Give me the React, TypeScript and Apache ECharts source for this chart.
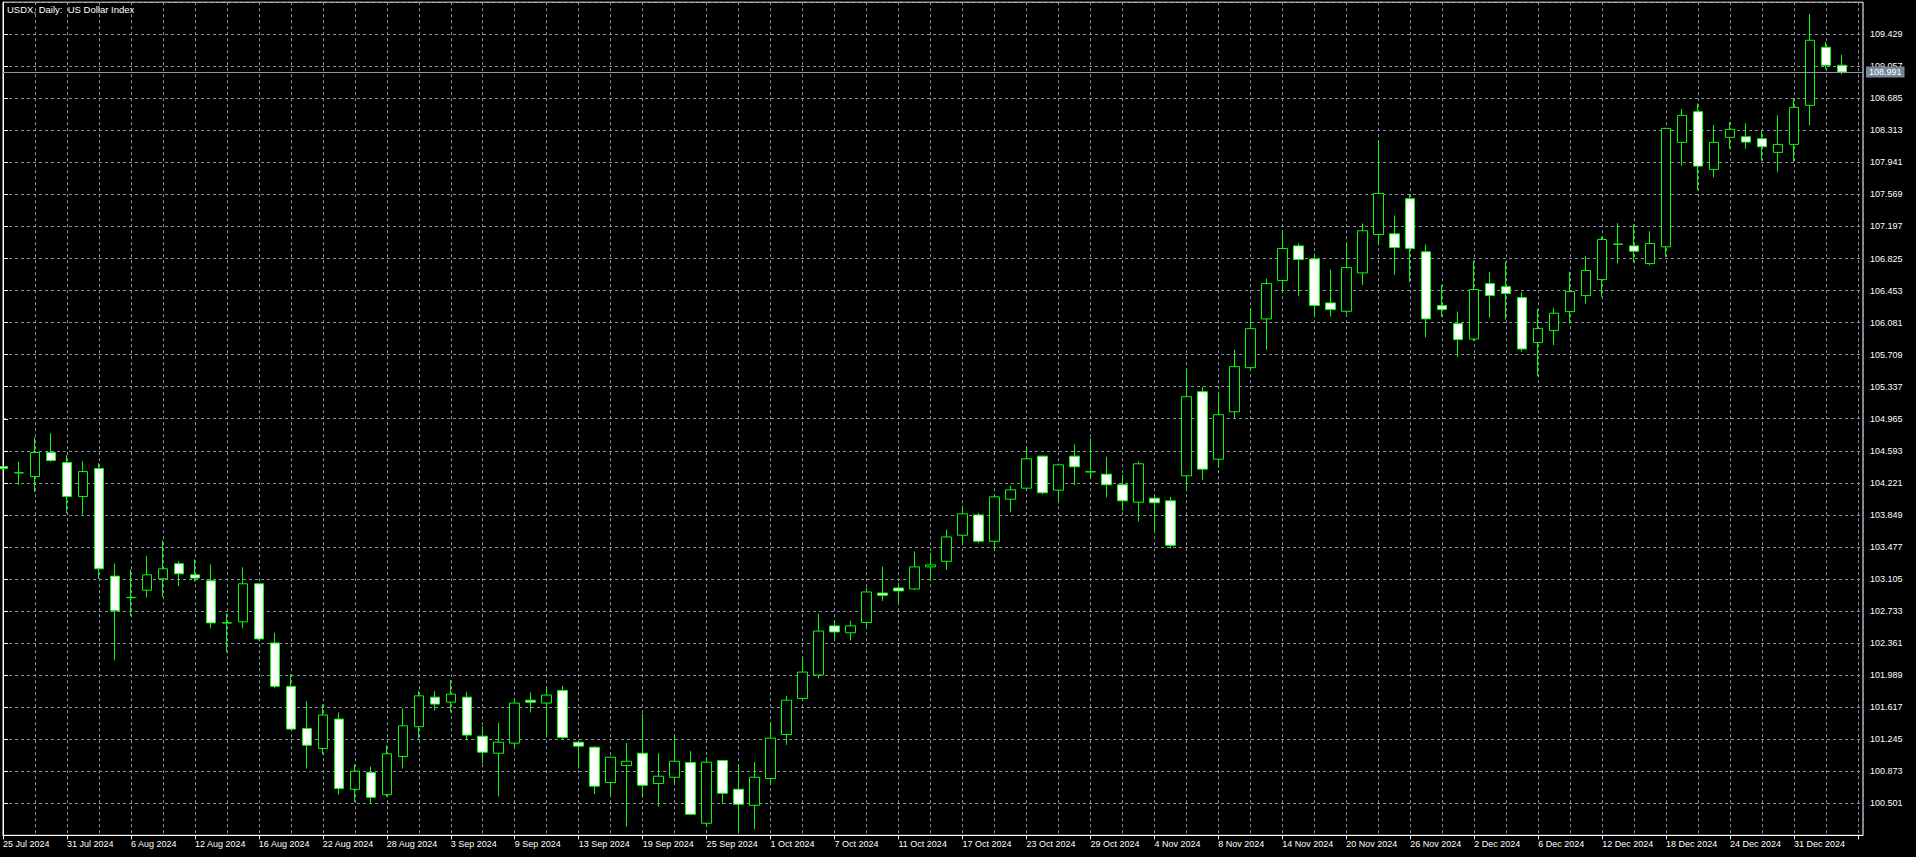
import React, { useEffect, useRef } from 'react';
import * as echarts from 'echarts';

const chartTitle = 'USDX, Daily:  US Dollar Index';

const dates = [
  '25 Jul 2024', '26 Jul 2024', '29 Jul 2024', '30 Jul 2024', '31 Jul 2024', '1 Aug 2024', '2 Aug 2024', '5 Aug 2024',
  '6 Aug 2024', '7 Aug 2024', '8 Aug 2024', '9 Aug 2024', '12 Aug 2024', '13 Aug 2024', '14 Aug 2024', '15 Aug 2024',
  '16 Aug 2024', '19 Aug 2024', '20 Aug 2024', '21 Aug 2024', '22 Aug 2024', '23 Aug 2024', '26 Aug 2024', '27 Aug 2024',
  '28 Aug 2024', '29 Aug 2024', '30 Aug 2024', '2 Sep 2024', '3 Sep 2024', '4 Sep 2024', '5 Sep 2024', '6 Sep 2024',
  '9 Sep 2024', '10 Sep 2024', '11 Sep 2024', '12 Sep 2024', '13 Sep 2024', '16 Sep 2024', '17 Sep 2024', '18 Sep 2024',
  '19 Sep 2024', '20 Sep 2024', '23 Sep 2024', '24 Sep 2024', '25 Sep 2024', '26 Sep 2024', '27 Sep 2024', '30 Sep 2024',
  '1 Oct 2024', '2 Oct 2024', '3 Oct 2024', '4 Oct 2024', '7 Oct 2024', '8 Oct 2024', '9 Oct 2024', '10 Oct 2024',
  '11 Oct 2024', '14 Oct 2024', '15 Oct 2024', '16 Oct 2024', '17 Oct 2024', '18 Oct 2024', '21 Oct 2024', '22 Oct 2024',
  '23 Oct 2024', '24 Oct 2024', '25 Oct 2024', '28 Oct 2024', '29 Oct 2024', '30 Oct 2024', '31 Oct 2024', '1 Nov 2024',
  '4 Nov 2024', '5 Nov 2024', '6 Nov 2024', '7 Nov 2024', '8 Nov 2024', '11 Nov 2024', '12 Nov 2024', '13 Nov 2024',
  '14 Nov 2024', '15 Nov 2024', '18 Nov 2024', '19 Nov 2024', '20 Nov 2024', '21 Nov 2024', '22 Nov 2024', '25 Nov 2024',
  '26 Nov 2024', '27 Nov 2024', '28 Nov 2024', '29 Nov 2024', '2 Dec 2024', '3 Dec 2024', '4 Dec 2024', '5 Dec 2024',
  '6 Dec 2024', '9 Dec 2024', '10 Dec 2024', '11 Dec 2024', '12 Dec 2024', '13 Dec 2024', '16 Dec 2024', '17 Dec 2024',
  '18 Dec 2024', '19 Dec 2024', '20 Dec 2024', '23 Dec 2024', '24 Dec 2024', '26 Dec 2024', '27 Dec 2024', '30 Dec 2024',
  '31 Dec 2024', '2 Jan 2025', '3 Jan 2025', '6 Jan 2025',
];

const opens = [
  104.410, 104.336, 104.294, 104.573, 104.457, 104.061, 104.387, 103.138, 102.888, 102.975, 103.107, 103.282, 103.153, 103.084, 102.597, 102.607,
  103.049, 102.362, 101.858, 101.369, 101.137, 101.478, 100.663, 100.857, 100.601, 101.044, 101.390, 101.733, 101.675, 101.733, 101.280, 101.082,
  101.199, 101.698, 101.664, 101.811, 101.210, 101.152, 100.741, 100.939, 101.082, 100.730, 100.803, 100.974, 100.269, 100.997, 100.664, 100.478,
  100.788, 101.299, 101.718, 101.990, 102.560, 102.480, 102.600, 102.942, 103.000, 102.989, 103.245, 103.310, 103.613, 103.849, 103.543, 104.031,
  104.159, 104.531, 104.136, 104.531, 104.347, 104.322, 104.198, 103.996, 104.043, 104.012, 104.302, 105.279, 104.496, 105.046, 105.558, 106.124,
  106.569, 106.972, 106.821, 106.310, 106.213, 106.658, 107.104, 107.112, 107.519, 106.903, 106.279, 106.069, 105.891, 106.534, 106.499, 106.372,
  105.849, 105.988, 106.209, 106.395, 106.581, 106.990, 106.972, 106.767, 106.961, 108.174, 108.530, 107.860, 108.232, 108.239, 108.216, 108.057,
  108.150, 108.604, 109.278, 109.069,
];

const closes = [
  104.387, 104.338, 104.573, 104.480, 104.061, 104.352, 103.223, 102.735, 102.892, 103.153, 103.223, 103.165, 103.115, 102.595, 102.593, 103.049,
  102.409, 101.858, 101.362, 101.175, 101.525, 100.671, 100.873, 100.570, 101.075, 101.400, 101.748, 101.652, 101.768, 101.292, 101.094, 101.210,
  101.664, 101.675, 101.757, 101.265, 101.164, 100.699, 101.036, 100.989, 100.710, 100.815, 100.989, 100.373, 100.978, 100.617, 100.489, 100.803,
  101.257, 101.698, 102.024, 102.500, 102.490, 102.560, 102.954, 102.915, 102.966, 103.245, 103.268, 103.593, 103.861, 103.543, 104.058, 104.140,
  104.500, 104.105, 104.430, 104.407, 104.351, 104.198, 104.012, 104.442, 103.989, 103.496, 105.221, 104.380, 105.012, 105.570, 106.011, 106.534,
  106.941, 106.813, 106.279, 106.232, 106.720, 107.147, 107.581, 106.953, 106.941, 106.124, 106.232, 105.883, 106.465, 106.395, 106.418, 105.775,
  106.011, 106.190, 106.441, 106.686, 107.046, 106.994, 106.910, 106.999, 108.336, 108.487, 107.898, 108.174, 108.325, 108.177, 108.123, 108.150,
  108.580, 109.359, 109.069, 108.991,
];

const lows = [
  104.370, 104.197, 104.115, 104.465, 103.867, 103.852, 103.107, 102.161, 102.673, 102.890, 102.898, 103.022, 103.076, 102.533, 102.254, 102.533,
  102.393, 101.835, 101.354, 100.904, 101.067, 100.601, 100.516, 100.493, 100.578, 100.904, 101.250, 101.578, 101.555, 101.230, 100.966, 100.579,
  101.137, 101.555, 101.268, 101.245, 100.904, 100.610, 100.579, 100.230, 100.567, 100.462, 100.734, 100.362, 100.230, 100.493, 100.152, 100.199,
  100.710, 101.179, 101.698, 101.950, 102.400, 102.390, 102.550, 102.850, 102.814, 102.980, 103.082, 103.213, 103.508, 103.520, 103.446, 103.880,
  104.136, 104.089, 103.996, 104.194, 104.275, 104.054, 103.896, 103.772, 103.648, 103.461, 104.124, 104.256, 104.395, 104.973, 105.527, 105.767,
  106.434, 106.391, 106.151, 106.151, 106.186, 106.519, 106.980, 106.635, 106.550, 105.911, 106.147, 105.682, 105.868, 106.139, 106.120, 105.744,
  105.457, 105.821, 106.069, 106.302, 106.379, 106.767, 106.779, 106.748, 106.844, 107.902, 107.619, 107.767, 108.100, 108.100, 107.960, 107.832,
  107.949, 108.371, 109.022, 108.960,
];

const highs = [
  104.420, 104.465, 104.748, 104.798, 104.542, 104.472, 104.449, 103.285, 103.216, 103.371, 103.553, 103.313, 103.332, 103.274, 102.704, 103.239,
  103.055, 102.479, 101.998, 101.687, 101.649, 101.556, 100.950, 100.927, 101.175, 101.602, 101.805, 101.803, 101.931, 101.795, 101.392, 101.435,
  101.718, 101.788, 101.857, 101.865, 101.215, 101.160, 101.040, 101.199, 101.536, 101.082, 101.303, 101.106, 101.036, 101.000, 100.951, 100.978,
  101.443, 101.745, 102.195, 102.700, 102.620, 102.620, 103.000, 103.248, 103.059, 103.423, 103.407, 103.678, 103.958, 103.872, 104.089, 104.186,
  104.647, 104.535, 104.446, 104.667, 104.736, 104.523, 104.314, 104.469, 104.085, 104.058, 105.546, 105.333, 105.263, 105.767, 106.244, 106.592,
  107.151, 106.999, 106.883, 106.697, 107.007, 107.232, 108.193, 107.325, 107.565, 106.988, 106.519, 106.209, 106.798, 106.666, 106.790, 106.434,
  106.240, 106.248, 106.670, 106.852, 107.077, 107.236, 107.220, 107.143, 108.344, 108.561, 108.627, 108.375, 108.410, 108.394, 108.317, 108.487,
  108.681, 109.665, 109.340, 109.189,
];

const lastPrice = 108.991;
const priceMin = 100.129;
const priceMax = 109.801;
const priceStep = 0.372;

const FONT = '"Liberation Sans", Arial, sans-serif';
const GREEN = '#00ff00';
const GRID_COLOR = '#8a949e';

export default function App() {
  const ref = useRef<HTMLDivElement>(null);

  useEffect(() => {
    if (!ref.current) return;
    const chart = echarts.init(ref.current, undefined, { renderer: 'svg' });
    const plotWidth = 1861;
    const barStep = 16;
    const xMax = plotWidth / barStep;
    const candles = dates.map((_, i) => [i, opens[i], closes[i], lows[i], highs[i]]);

    const option: any = {
      animation: false,
      backgroundColor: '#000000',
      title: {
        text: chartTitle,
        left: 7,
        top: 4,
        padding: 0,
        textStyle: { color: '#ffffff', fontSize: 9.5, fontWeight: 'normal', fontFamily: FONT },
      },
      grid: {
        left: 2,
        right: 53,
        top: 2.2,
        bottom: 21.7,
        show: true,
        borderColor: '#ffffff',
        borderWidth: 1,
        backgroundColor: 'transparent',
      },
      xAxis: [
        {
          type: 'value',
          min: 0,
          max: xMax,
          interval: 4,
          position: 'bottom',
          axisLine: { show: true, lineStyle: { color: '#ffffff', width: 1 } },
          axisTick: { show: true, length: 4, lineStyle: { color: '#ffffff' } },
          axisLabel: {
            show: true,
            showMaxLabel: false,
            color: '#ffffff',
            fontSize: 9,
            fontFamily: FONT,
            align: 'left',
            margin: 4,
            formatter: (v: number) => (Number.isInteger(v) && dates[v] ? dates[v] : ''),
          },
          splitLine: { show: false },
        },
        {
          type: 'value',
          min: 0,
          max: xMax,
          interval: 2,
          position: 'top',
          axisLine: { show: false },
          axisTick: { show: false },
          axisLabel: { show: false },
          splitLine: { show: true, lineStyle: { color: GRID_COLOR, width: 1, type: [3, 3] } },
        },
      ],
      yAxis: {
        type: 'value',
        position: 'right',
        min: priceMin,
        max: priceMax,
        interval: priceStep,
        scale: true,
        axisLine: { show: true, lineStyle: { color: '#ffffff', width: 1 } },
        axisTick: { show: true, length: 5, lineStyle: { color: '#ffffff' } },
        axisLabel: {
          show: true,
          showMinLabel: false,
          showMaxLabel: false,
          color: '#ffffff',
          fontSize: 9,
          fontFamily: FONT,
          margin: 7,
          formatter: (v: number) => v.toFixed(3),
        },
        splitLine: { show: true, lineStyle: { color: GRID_COLOR, width: 1, type: [3, 3] } },
      },
      series: [
        {
          type: 'candlestick',
          xAxisIndex: 0,
          yAxisIndex: 0,
          data: candles,
          encode: { x: 0, y: [1, 2, 3, 4] },
          barWidth: 10,
          itemStyle: {
            color: '#000000',
            color0: '#ffffff',
            borderColor: GREEN,
            borderColor0: GREEN,
            borderColorDoji: GREEN,
            borderWidth: 1,
          },
          markLine: {
            silent: true,
            symbol: ['none', 'none'],
            animation: false,
            data: [{ yAxis: lastPrice }],
            lineStyle: { color: '#8c9aa8', width: 1, type: 'solid' },
            label: {
              show: true,
              position: 'end',
              distance: 3,
              formatter: lastPrice.toFixed(3),
              backgroundColor: '#778899',
              color: '#ffffff',
              fontSize: 9,
              fontFamily: FONT,
              lineHeight: 10,
              padding: [1, 3, 0, 3],
            },
            emphasis: { disabled: true },
          },
        },
      ],
    };

    chart.setOption(option);
    return () => chart.dispose();
  }, []);

  return (
    <div
      ref={ref}
      style={{ position: 'fixed', left: 0, top: 0, width: 1916, height: 857, background: '#000000' }}
    />
  );
}
